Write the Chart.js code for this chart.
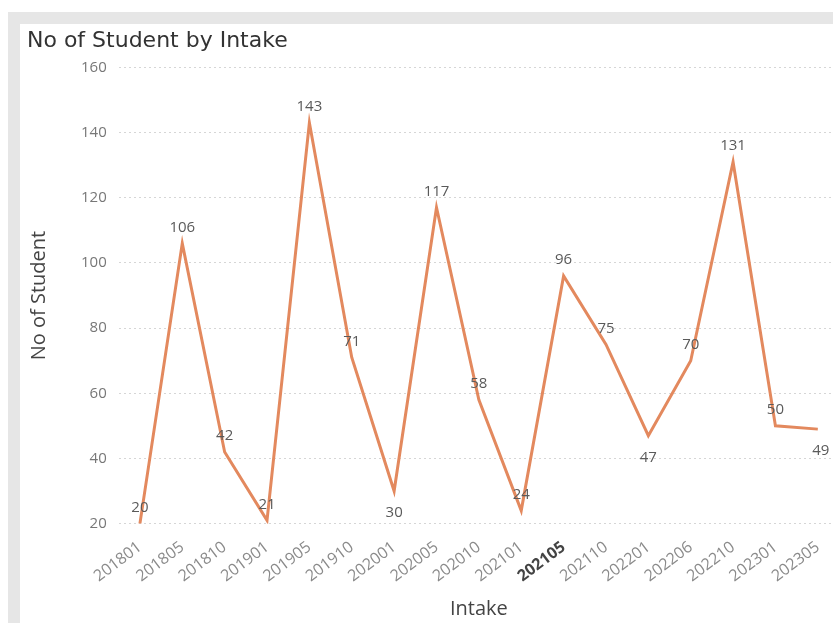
<!DOCTYPE html>
<html>
<head>
<meta charset="utf-8">
<script src="https://cdn.jsdelivr.net/npm/chart.js@4"></script>
<style>
    html, body { margin: 0; padding: 0; background: #fff; overflow: hidden; }
    #frame {
        position: absolute; left: 8px; top: 12px; width: 900px; height: 700px;
        background: #e6e6e6;
    }
    #card {
        position: absolute; left: 20px; top: 24px; width: 825px; height: 599px;
        background: #fff;
    }
</style>
</head>
<body>
<div id="frame"></div>
<div id="card"><canvas id="chart" width="825" height="599"></canvas></div>
<script>
const intakes = ['201801', '201805', '201810', '201901', '201905', '201910', '202001', '202005', '202010',
    '202101', '202105', '202110', '202201', '202206', '202210', '202301', '202305'];
const students = [20, 106, 42, 21, 143, 71, 30, 117, 58, 24, 96, 75, 47, 70, 131, 50, 49];
const yTicks = [20, 40, 60, 80, 100, 120, 140, 160];

// intake highlighted on the axis, and points whose value label sits under the line
const highlightIntake = '202105';
const labelsBelow = ['202001', '202201', '202305'];

const lineColor = '#e3895e';
const textFont = "'Open Sans', 'Noto Sans', sans-serif";

// draws each point's value above (or below) it
const valueLabels = {
    id: 'valueLabels',
    afterDatasetsDraw(chart) {
        const { ctx } = chart;
        const meta = chart.getDatasetMeta(0);
        ctx.save();
        ctx.font = `15px ${textFont}`;
        ctx.fillStyle = '#5a5a5a';
        ctx.textAlign = 'center';
        ctx.textBaseline = 'middle';
        meta.data.forEach((pt, i) => {
            const below = labelsBelow.includes(intakes[i]);
            const last = i === meta.data.length - 1;
            const x = pt.x + (last ? 3 : 0);
            const y = below ? pt.y + 22 : pt.y - 16;
            ctx.fillText(String(students[i]), x, y);
        });
        ctx.restore();
    }
};

new Chart(document.getElementById('chart'), {
    type: 'line',
    data: {
        labels: intakes,
        datasets: [{
            label: 'No of Student',
            data: students,
            borderColor: lineColor,
            borderWidth: 3,
            pointRadius: 0,
            tension: 0,
            fill: false
        }]
    },
    options: {
        responsive: false,
        animation: false,
        layout: { padding: { left: 7, right: 6, top: 0, bottom: 2 } },
        plugins: {
            legend: { display: false },
            tooltip: { enabled: false },
            title: {
                display: true,
                text: 'No of Student by Intake',
                align: 'start',
                color: '#333',
                font: { family: "'DejaVu Sans', sans-serif", size: 22, weight: 'normal' },
                padding: { top: 4, bottom: 13 }
            }
        },
        scales: {
            x: {
                offset: true,
                grid: { display: false },
                border: { display: false },
                ticks: {
                    autoSkip: false,
                    minRotation: 37,
                    maxRotation: 37,
                    padding: 6,
                    color: (c) => intakes[c.index] === highlightIntake ? '#444' : '#8a8a8a',
                    font: (c) => ({
                        family: textFont,
                        size: 16,
                        weight: intakes[c.index] === highlightIntake ? 'bold' : 'normal'
                    })
                },
                title: {
                    display: true,
                    text: 'Intake',
                    color: '#444',
                    font: { family: textFont, size: 20 },
                    padding: { top: 5, bottom: 0 }
                }
            },
            y: {
                min: 20,
                max: 160,
                afterBuildTicks: (axis) => { axis.ticks = yTicks.map(v => ({ value: v })); },
                grid: { color: '#d6d6d6', lineWidth: 1, drawTicks: false },
                border: { display: false, dash: [2, 3] },
                ticks: {
                    padding: 12,
                    color: '#777',
                    font: { family: textFont, size: 15 }
                },
                title: {
                    display: true,
                    text: 'No of Student',
                    color: '#444',
                    font: { family: textFont, size: 20 },
                    padding: { top: 0, bottom: 18 }
                }
            }
        }
    },
    plugins: [valueLabels]
});
</script>
</body>
</html>
